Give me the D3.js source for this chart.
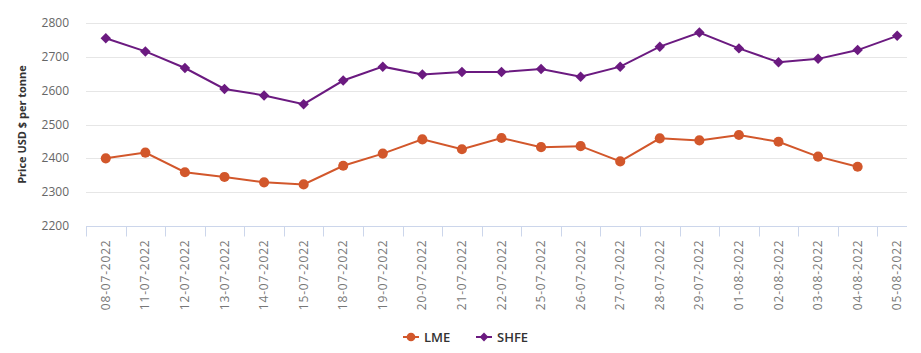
<!DOCTYPE html>
<html>
<head>
<meta charset="utf-8">
<script src="https://cdn.jsdelivr.net/npm/d3@7"></script>
<style>
  body { margin: 0; background: #fff; }
  #chart { width: 921px; height: 353px; }
  text { font-family: "Open Sans", "Noto Sans", sans-serif; }
</style>
</head>
<body>
<div id="chart"></div>
<script>
const dates = ["08-07-2022","11-07-2022","12-07-2022","13-07-2022","14-07-2022","15-07-2022",
  "18-07-2022","19-07-2022","20-07-2022","21-07-2022","22-07-2022","25-07-2022","26-07-2022",
  "27-07-2022","28-07-2022","29-07-2022","01-08-2022","02-08-2022","03-08-2022","04-08-2022","05-08-2022"];

const lme = [2400, 2417, 2359, 2345, 2329, 2323, 2378, 2414, 2456, 2427, 2460, 2433, 2436,
  2391, 2459, 2453, 2469, 2449, 2405, 2375, null];

const shfe = [2755, 2716, 2667, 2605, 2586, 2560, 2630, 2671, 2648, 2655, 2655, 2664, 2641,
  2671, 2730, 2772, 2725, 2684, 2694, 2720, 2762];

const yTicks = [2200, 2300, 2400, 2500, 2600, 2700, 2800];

const series = [
  {name: "LME", values: lme, color: "#d2572b", marker: "circle"},
  {name: "SHFE", values: shfe, color: "#6b1a80", marker: "diamond"}
];

const width = 921;
const height = 353;
const margin = {top: 23, left: 86, right: 4, bottom: 127};
const gridRight = 907;

const svg = d3.select("#chart")
  .append("svg")
  .attr("width", width)
  .attr("height", height);

const xScale = d3.scaleBand()
  .domain(dates)
  .range([margin.left, 917]);

const yScale = d3.scaleLinear()
  .domain([2200, 2800])
  .range([height - margin.bottom, margin.top]);

// grid lines
svg.selectAll(".grid")
  .data(yTicks.slice(1))
  .enter()
  .append("line")
    .attr("x1", margin.left)
    .attr("x2", gridRight)
    .attr("y1", d => Math.round(yScale(d)) + 0.5)
    .attr("y2", d => Math.round(yScale(d)) + 0.5)
    .attr("stroke", "#e6e6e6")
    .attr("stroke-width", 1);

// y tick labels
svg.selectAll(".ylab")
  .data(yTicks)
  .enter()
  .append("text")
    .attr("x", 69)
    .attr("y", d => yScale(d) + 4)
    .attr("text-anchor", "end")
    .attr("font-size", "12px")
    .attr("fill", "#666")
    .text(d => d);

// y title
svg.append("text")
  .attr("transform", "translate(26," + ((margin.top + height - margin.bottom) / 2) + ") rotate(-90)")
  .attr("text-anchor", "middle")
  .attr("font-size", "11px")
  .attr("font-weight", "bold")
  .attr("fill", "#333")
  .text("Price USD $ per tonne");

// x axis
const y0 = Math.round(yScale(2200)) + 0.5;
svg.append("line")
  .attr("x1", margin.left)
  .attr("x2", gridRight)
  .attr("y1", y0)
  .attr("y2", y0)
  .attr("stroke", "#ccd6eb");

const tickXs = dates.map(d => xScale(d));
svg.selectAll(".xtick")
  .data(tickXs)
  .enter()
  .append("line")
    .attr("x1", d => Math.round(d) + 0.5)
    .attr("x2", d => Math.round(d) + 0.5)
    .attr("y1", y0)
    .attr("y2", y0 + 10)
    .attr("stroke", "#ccd6eb");

svg.selectAll(".xlab")
  .data(dates)
  .enter()
  .append("text")
    .attr("transform", d => "translate(" + (xScale(d) + xScale.bandwidth() / 2 + 4) + "," + (y0 + 13) + ") rotate(-90)")
    .attr("text-anchor", "end")
    .attr("font-size", "12px")
    .attr("letter-spacing", "0.8px")
    .attr("fill", "#777")
    .text(d => d);

const cx = i => xScale(dates[i]) + xScale.bandwidth() / 2;

const line = d3.line()
  .defined(d => d.v != null)
  .x(d => cx(d.i))
  .y(d => yScale(d.v));

series.forEach(s => {
  const pts = s.values.map((v, i) => ({v: v, i: i}));
  svg.append("path")
    .datum(pts)
    .attr("d", line)
    .attr("fill", "none")
    .attr("stroke", s.color)
    .attr("stroke-width", 2);

  const sym = s.marker === "circle" ? d3.symbol(d3.symbolCircle, 80) : d3.symbol(d3.symbolDiamond2, 70);
  svg.selectAll(".m-" + s.name)
    .data(pts.filter(p => p.v != null))
    .enter()
    .append("path")
      .attr("d", sym)
      .attr("transform", p => "translate(" + cx(p.i) + "," + yScale(p.v) + ")")
      .attr("fill", s.color);
});

// legend
const legend = svg.append("g").attr("transform", "translate(403,337)");
const legendX = [0, 73];
series.forEach((s, k) => {
  const g = legend.append("g").attr("transform", "translate(" + legendX[k] + ",0)");
  g.append("line")
    .attr("x1", 0).attr("x2", 16)
    .attr("stroke", s.color).attr("stroke-width", 2);
  const sym = s.marker === "circle" ? d3.symbol(d3.symbolCircle, 60) : d3.symbol(d3.symbolDiamond2, 50);
  g.append("path").attr("d", sym).attr("transform", "translate(8,0)").attr("fill", s.color);
  g.append("text")
    .attr("x", 21)
    .attr("y", 4.5)
    .attr("font-size", "13px")
    .attr("font-weight", "600")
    .attr("fill", "#333")
    .text(s.name);
});
</script>
</body>
</html>
